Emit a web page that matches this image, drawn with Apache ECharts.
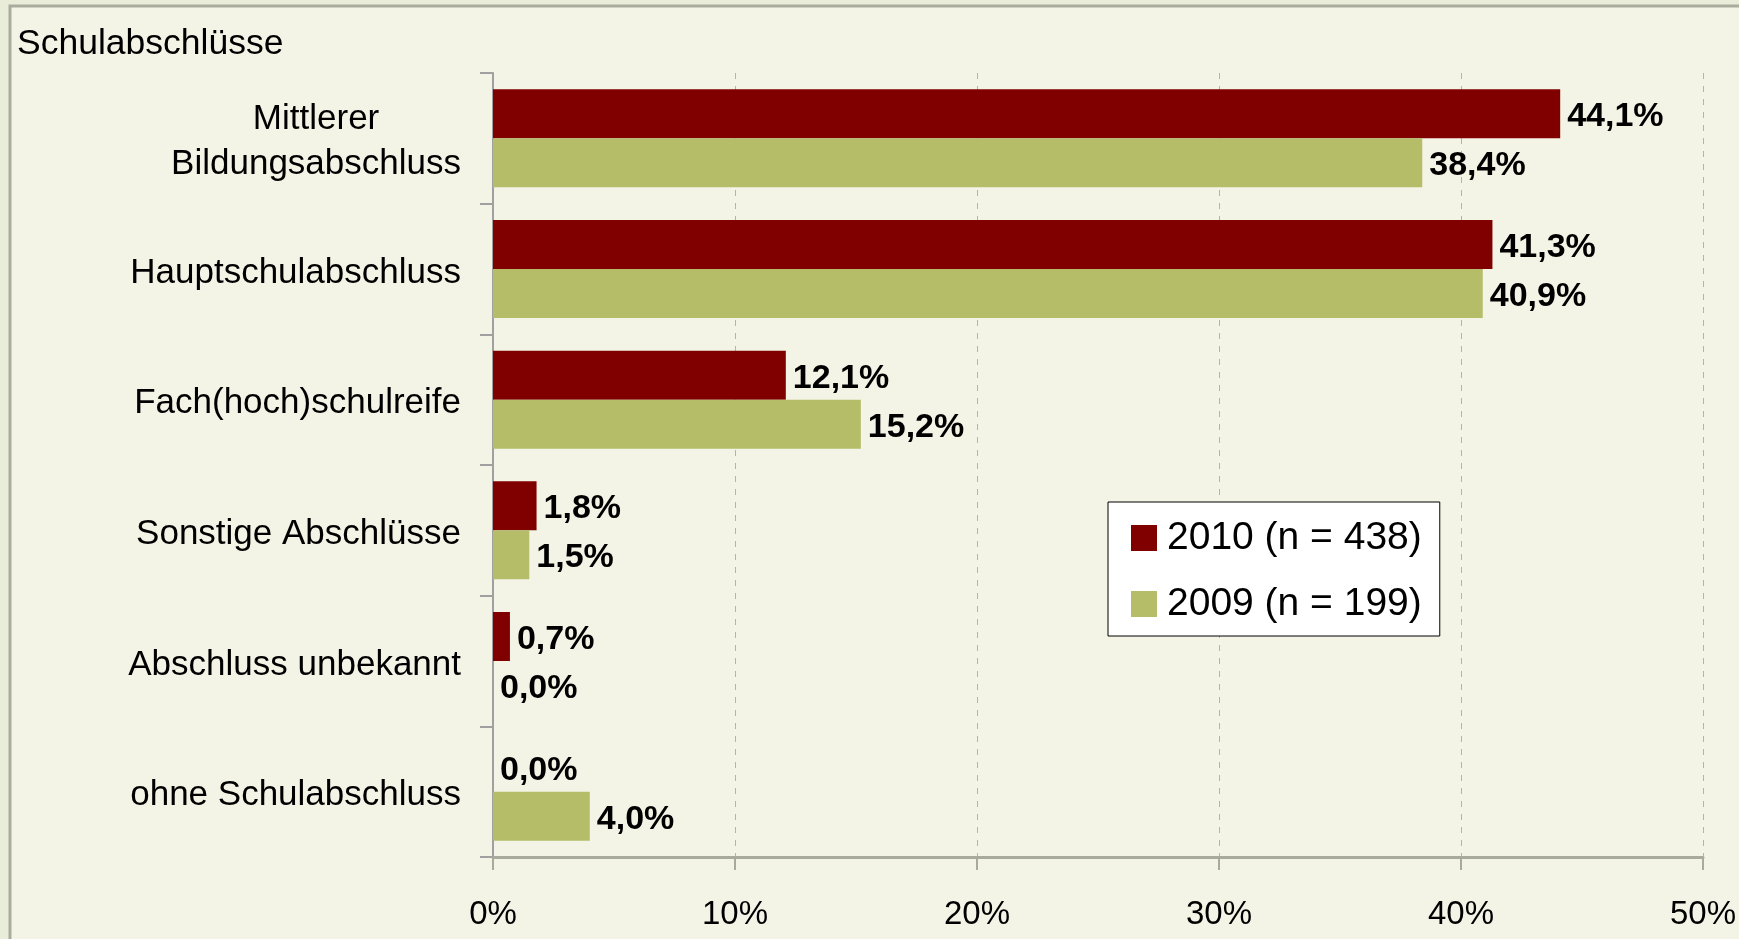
<!DOCTYPE html>
<html>
<head>
<meta charset="utf-8">
<script src="https://cdn.jsdelivr.net/npm/echarts@6/dist/echarts.min.js"></script>
<style>
  html, body { margin: 0; padding: 0; background: #e9ecd9; }
  #chart { width: 1739px; height: 939px; }
</style>
</head>
<body>
<div id="chart"></div>
<script>
const categories = [
  'Mittlerer\nBildungsabschluss',
  'Hauptschulabschluss',
  'Fach(hoch)schulreife',
  'Sonstige Abschlüsse',
  'Abschluss unbekannt',
  'ohne Schulabschluss'
]
const values2010 = [44.1, 41.3, 12.1, 1.8, 0.7, 0.0]
const values2009 = [38.4, 40.9, 15.2, 1.5, 0.0, 4.0]
const seriesNames = ['2010 (n = 438)', '2009 (n = 199)']
const xTicks = [0, 10, 20, 30, 40, 50]

const font = '"Liberation Sans", Arial, sans-serif'

let myChart = echarts.init(document.getElementById('chart'))

function valueLabel(p) {
  return p.value.toFixed(1).replace('.', ',') + '%'
}

myChart.setOption({
  backgroundColor: '#e9ecd9',
  textStyle: { fontFamily: font },
  graphic: [
    {
      type: 'rect',
      z: -10,
      silent: true,
      shape: { x: 10, y: 6, width: 1800, height: 1000 },
      style: { fill: '#f4f4e6', stroke: '#a9ab9d', lineWidth: 3 }
    }
  ],
  title: {
    text: 'Schulabschlüsse',
    left: 17,
    top: 26,
    padding: 0,
    textStyle: { fontSize: 35.5, fontWeight: 'normal', color: '#000', fontFamily: font }
  },
  legend: {
    orient: 'vertical',
    left: 1108,
    top: 502,
    backgroundColor: '#ffffff',
    borderColor: '#000000',
    borderWidth: 1,
    borderRadius: 0,
    padding: [16, 18, 12, 23],
    itemWidth: 26,
    itemHeight: 26,
    itemGap: 26,
    icon: 'rect',
    textStyle: { fontSize: 39, color: '#000', fontFamily: font, lineHeight: 40, padding: [0, 0, 0, 5] },
    data: seriesNames
  },
  grid: {
    left: 493,
    right: 36,
    top: 73,
    bottom: 82,
    containLabel: false
  },
  xAxis: {
    type: 'value',
    min: xTicks[0],
    max: xTicks[xTicks.length - 1],
    interval: 10,
    axisLabel: {
      formatter: '{value}%',
      fontSize: 33,
      color: '#000',
      margin: 41,
      fontFamily: font
    },
    axisLine: { show: true, lineStyle: { color: '#a8aa9c', width: 3 } },
    axisTick: { show: true, length: 13, lineStyle: { color: '#a8aa9c', width: 2 } },
    splitLine: {
      show: true,
      lineStyle: { color: '#b4b4ac', width: 1, type: [6, 7] }
    }
  },
  yAxis: {
    type: 'category',
    inverse: true,
    data: categories,
    axisLabel: {
      fontSize: 35,
      color: '#000',
      margin: 32,
      lineHeight: 45,
      padding: [8, 0, 0, 0],
      fontFamily: font,
      formatter: function (v) {
        return v.split('\n').map(s => '{c|' + s + '}').join('\n')
      },
      rich: {
        c: { align: 'center', fontSize: 35, lineHeight: 45, color: '#000', fontFamily: font }
      }
    },
    axisLine: { show: true, lineStyle: { color: '#a0a0a0', width: 2 } },
    axisTick: { show: true, length: 13, lineStyle: { color: '#a0a0a0', width: 2 } },
    splitLine: { show: false }
  },
  series: [
    {
      name: seriesNames[0],
      type: 'bar',
      data: values2010,
      barGap: '0%',
      barCategoryGap: '25%',
      itemStyle: { color: '#800000' },
      label: {
        show: true,
        position: 'right',
        distance: 7,
        offset: [0, 3],
        formatter: valueLabel,
        fontSize: 34,
        fontWeight: 'bold',
        color: '#000',
        fontFamily: font
      }
    },
    {
      name: seriesNames[1],
      type: 'bar',
      data: values2009,
      barGap: '0%',
      barCategoryGap: '25%',
      itemStyle: { color: '#b5bd68' },
      label: {
        show: true,
        position: 'right',
        distance: 7,
        offset: [0, 3],
        formatter: valueLabel,
        fontSize: 34,
        fontWeight: 'bold',
        color: '#000',
        fontFamily: font
      }
    }
  ]
})
</script>
</body>
</html>
